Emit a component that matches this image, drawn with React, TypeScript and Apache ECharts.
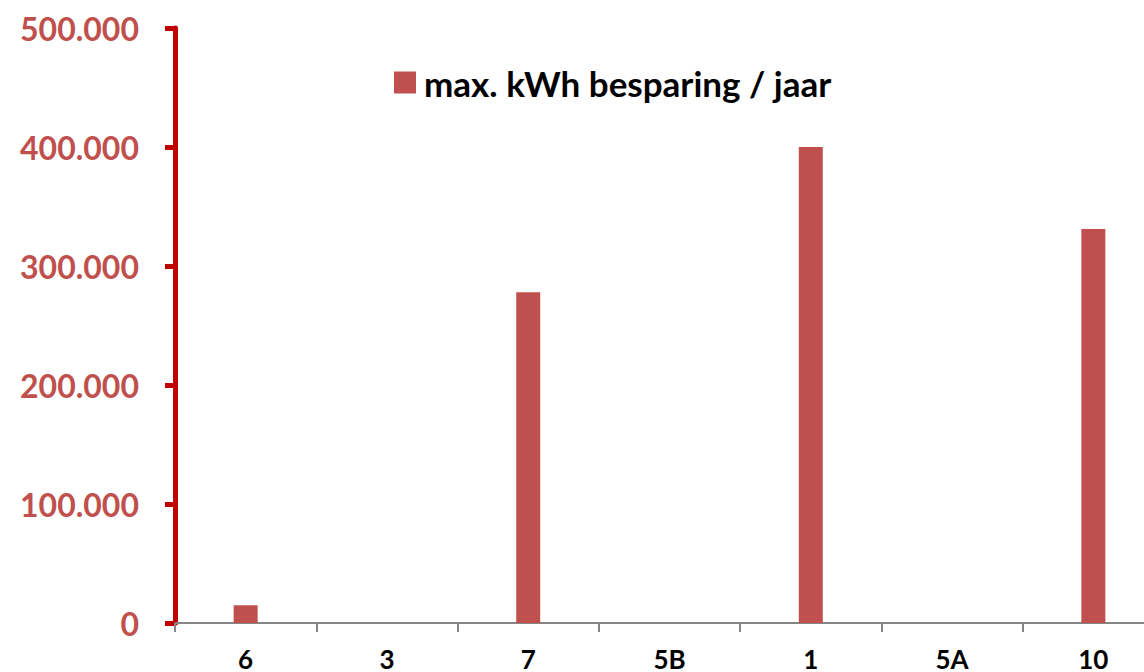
import React, { useEffect, useRef } from "react";
import * as echarts from "echarts";

const categories = ["6", "3", "7", "5B", "1", "5A", "10"];
const seriesName = "max. kWh besparing / jaar";
const values = [15000, 0, 278000, 0, 400000, 0, 331000];
const yTicks = [0, 100000, 200000, 300000, 400000, 500000];

const fmt = (v: number) => String(v).replace(/\B(?=(\d{3})+(?!\d))/g, ".");

export default function App() {
  const ref = useRef<HTMLDivElement>(null);
  useEffect(() => {
    document.body.style.margin = "0";
    document.body.style.overflow = "hidden";
    const chart = echarts.init(ref.current!, undefined, { renderer: "svg" });
    chart.setOption({
      animation: false,
      backgroundColor: "#ffffff",
      textStyle: { fontFamily: "Lato" },
      legend: {
        show: true,
        left: 389,
        top: 60,
        icon: "rect",
        itemWidth: 22,
        itemHeight: 22,
        itemGap: 10,
        textStyle: { fontFamily: "Lato", fontWeight: "bold", fontSize: 35, color: "#000000", padding: [0, 0, 0, 3] },
        data: [seriesName],
      },
      grid: { left: 175, top: 28, right: 0, bottom: 43, containLabel: false },
      xAxis: {
        type: "category",
        data: categories,
        boundaryGap: true,
        axisLine: { show: true, lineStyle: { color: "#868686", width: 2 } },
        axisTick: { show: true, alignWithLabel: false, length: 9, lineStyle: { color: "#868686", width: 2 } },
        axisLabel: { color: "#000000", fontFamily: "Lato", fontWeight: "bold", fontSize: 26, margin: 23 },
        splitLine: { show: false },
      },
      yAxis: {
        type: "value",
        min: yTicks[0],
        max: yTicks[yTicks.length - 1],
        interval: yTicks[1] - yTicks[0],
        axisLine: { show: true, lineStyle: { color: "#C00000", width: 5 } },
        axisTick: { show: true, inside: false, length: 10, lineStyle: { color: "#C00000", width: 5 } },
        axisLabel: {
          color: "#C0504D",
          fontFamily: "Lato",
          fontWeight: "bold",
          fontSize: 32,
          margin: 36,
          formatter: (v: number) => fmt(v),
        },
        splitLine: { show: false },
      },
      series: [
        {
          name: seriesName,
          type: "bar",
          data: values,
          barWidth: 24,
          itemStyle: { color: "#C0504D" },
        },
      ],
    });
    return () => chart.dispose();
  }, []);
  return (
    <div style={{ position: "fixed", left: 0, top: 0, width: 1144, height: 672, overflow: "hidden" }}>
      <div ref={ref} style={{ width: 1164, height: 672 }} />
    </div>
  );
}
